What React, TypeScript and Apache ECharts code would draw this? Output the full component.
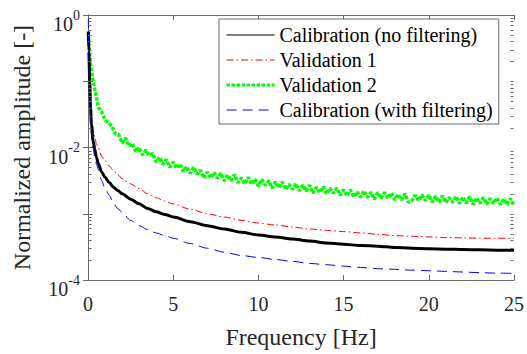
import React, { useEffect, useRef } from "react";
import * as echarts from "echarts";

// Frequency grid of the smooth curves [Hz]
const freqSmooth = [
  0.02, 0.05, 0.1, 0.15, 0.2, 0.3, 0.4, 0.5, 0.6, 0.8,
  1.0, 1.25, 1.5, 1.75, 2.0, 2.5,
  3, 3.5, 4, 4.5, 5,
  6, 7, 8, 9, 10, 11, 12, 13, 14, 15, 16, 17, 18, 19, 20, 21, 22, 23, 24, 25,
];

const calibNoFilter = [
  0.562, 0.282, 0.1, 0.0398, 0.0224, 0.0126, 0.00933, 0.00708, 0.00575, 0.00427,
  0.00355, 0.00295, 0.00251, 0.00224, 0.002, 0.00166,
  0.00141, 0.0012, 0.00107, 0.000977, 0.000891,
  0.000759, 0.000661, 0.000589, 0.000525, 0.000479, 0.000447, 0.000417, 0.000389, 0.000363, 0.000347,
  0.000331, 0.000324, 0.000309, 0.000302, 0.000295, 0.000292, 0.000288, 0.000285, 0.000282, 0.000282,
];

const validation1 = [
  0.447, 0.2, 0.0891, 0.0447, 0.0282, 0.0191, 0.0141, 0.0112, 0.01, 0.00741,
  0.00631, 0.00525, 0.00447, 0.00389, 0.00339, 0.00282,
  0.0024, 0.002, 0.00174, 0.00155, 0.00141,
  0.00117, 0.001, 0.000891, 0.000794, 0.000724, 0.000676, 0.000631, 0.000589, 0.000562, 0.000537,
  0.000513, 0.00049, 0.000468, 0.000457, 0.000447, 0.000437, 0.000432, 0.000427, 0.000427, 0.000427,
];

const calibFilter = [
  0.891, 0.251, 0.0631, 0.0251, 0.0158, 0.01, 0.00708, 0.00562, 0.00468, 0.00316,
  0.0024, 0.00191, 0.00141, 0.0012, 0.00105, 0.000794,
  0.000661, 0.000575, 0.000513, 0.000468, 0.000427,
  0.000355, 0.000302, 0.000263, 0.000234, 0.000219, 0.000204, 0.000191, 0.000178, 0.00017, 0.000162,
  0.000155, 0.000148, 0.000145, 0.000141, 0.000138, 0.000135, 0.000132, 0.000129, 0.000127, 0.000126,
];

// Validation 2: noisy measured spectrum (first 4 points, then every 0.2 Hz up to 25 Hz)
const freqNoisyStart = [0.02, 0.06, 0.1, 0.14];
const freqNoisy = freqNoisyStart.concat(
  Array.from({ length: 125 }, (_, i) => Math.round((i + 1) * 2) / 10)
);
const validation2 = [
  0.537, 0.355, 0.251, 0.19,
  0.141, 0.0759, 0.0407, 0.0347, 0.0257, 0.024, 0.0209, 0.0162, 0.0158, 0.0117,
  0.0139, 0.0105, 0.0116, 0.00866, 0.01, 0.00772, 0.00915, 0.00759, 0.00815, 0.00599,
  0.0071, 0.0056, 0.00663, 0.00504, 0.00604, 0.00487, 0.00564, 0.00434, 0.00515, 0.00406,
  0.00503, 0.00396, 0.00454, 0.00345, 0.00427, 0.00345, 0.00418, 0.00341, 0.00408, 0.00314,
  0.00385, 0.00314, 0.00391, 0.00294, 0.00348, 0.00284, 0.00356, 0.0028, 0.00332, 0.00261,
  0.00329, 0.00268, 0.00314, 0.00244, 0.00302, 0.00247, 0.00302, 0.00233, 0.00279, 0.00233,
  0.00286, 0.00222, 0.0027, 0.0022, 0.0027, 0.00205, 0.00252, 0.00208, 0.00255, 0.00199,
  0.00244, 0.00203, 0.00244, 0.0019, 0.0023, 0.00187, 0.0023, 0.00179, 0.00214, 0.00177,
  0.00222, 0.00177, 0.00212, 0.00165, 0.0021, 0.00171, 0.0021, 0.00171, 0.00205, 0.00162,
  0.00197, 0.00162, 0.002, 0.00149, 0.00156, 0.00191, 0.00158, 0.00193, 0.00158, 0.00191,
  0.0015, 0.00185, 0.0015, 0.00187, 0.00147, 0.00176, 0.00149, 0.00183, 0.00143, 0.00179,
  0.00145, 0.00181, 0.00138, 0.00174, 0.00143, 0.00176, 0.00139, 0.0017, 0.00143, 0.00174,
  0.00138, 0.00168, 0.00139, 0.0017, 0.00132,
];

const seriesNames = [
  "Calibration (no filtering)",
  "Validation 1",
  "Validation 2",
  "Calibration (with filtering)",
];

const xMin = 0;
const xMax = 25;
const xStep = 5;
const yMin = 1e-4;
const yMax = 1;
const minorMantissas = [2, 3, 4, 5, 6, 7, 8, 9];

const FONT = "Liberation Serif";
const AXIS_COLOR = "#6a6a6a";
const TEXT_COLOR = "#262626";

const pair = (xs: number[], ys: number[]) => xs.map((x, i) => [x, ys[i]]);

export default function App() {
  const ref = useRef<HTMLDivElement>(null);

  useEffect(() => {
    const chart = echarts.init(ref.current!, null, { renderer: "svg" });

    const yFmt = (v: number) => {
      const e = Math.round(Math.log10(v));
      if (e % 2 !== 0) return "";
      return `{b|10}{s|${e}}`;
    };

    const axisLine = { show: true, lineStyle: { color: AXIS_COLOR, width: 1 } };
    const tickStyle = { color: AXIS_COLOR, width: 1 };

    chart.setOption({
      animation: false,
      textStyle: { fontFamily: FONT },
      grid: { left: 88, right: 11, top: 15, bottom: 72 },
      legend: {
        orient: "vertical",
        left: 219,
        top: 19,
        padding: [6, 6, 4, 6],
        itemWidth: 48,
        itemHeight: 14,
        itemGap: 5,
        backgroundColor: "#ffffff",
        borderColor: AXIS_COLOR,
        borderWidth: 1,
        borderRadius: 0,
        selectedMode: false,
        itemStyle: { color: "rgba(0,0,0,0)", borderWidth: 0, opacity: 0 },
        textStyle: { fontFamily: FONT, fontSize: 20, color: "#000" },
        data: [
          { name: seriesNames[0], lineStyle: { width: 1 } },
          { name: seriesNames[1], lineStyle: { width: 1 } },
          { name: seriesNames[2], lineStyle: { width: 3 } },
          { name: seriesNames[3], lineStyle: { width: 1 } },
        ],
      },
      xAxis: [
        {
          type: "value",
          position: "bottom",
          min: xMin,
          max: xMax,
          interval: xStep,
          name: "Frequency [Hz]",
          nameLocation: "middle",
          nameGap: 45,
          nameTextStyle: { fontFamily: FONT, fontSize: 24, color: TEXT_COLOR },
          axisLine,
          axisTick: { show: true, inside: true, length: 5, lineStyle: tickStyle },
          axisLabel: { fontFamily: FONT, fontSize: 20, color: TEXT_COLOR, margin: 14 },
          splitLine: { show: false },
        },
        {
          type: "value",
          position: "top",
          min: xMin,
          max: xMax,
          interval: xStep,
          axisLine,
          axisTick: { show: true, inside: true, length: 5, lineStyle: tickStyle },
          axisLabel: { show: false },
          splitLine: { show: false },
        },
      ],
      yAxis: [
        {
          type: "log",
          logBase: 10,
          position: "left",
          min: yMin,
          max: yMax,
          name: "Normalized amplitude [-]",
          nameLocation: "middle",
          nameGap: 54,
          nameTextStyle: { fontFamily: FONT, fontSize: 24, color: TEXT_COLOR },
          axisLine,
          axisTick: { show: true, inside: true, length: 5, interval: 1, lineStyle: tickStyle },
          axisLabel: {
            margin: 8,
            padding: [12, 0, 0, 0],
            formatter: yFmt,
            rich: {
              b: {
                fontFamily: FONT,
                fontSize: 20,
                lineHeight: 26,
                color: TEXT_COLOR,
                verticalAlign: "bottom",
              },
              s: {
                fontFamily: FONT,
                fontSize: 14,
                lineHeight: 14,
                color: TEXT_COLOR,
                verticalAlign: "top",
              },
            },
          },
          splitLine: { show: false },
        },
        {
          type: "log",
          logBase: 10,
          position: "right",
          min: yMin,
          max: yMax,
          axisLine,
          axisTick: { show: true, inside: true, length: 5, interval: 1, lineStyle: tickStyle },
          axisLabel: { show: false },
          splitLine: { show: false },
        },
      ],
      series: [
        {
          name: seriesNames[0],
          type: "line",
          data: pair(freqSmooth, calibNoFilter),
          showSymbol: false,
          symbol: "none",
          smooth: 0.3,
          smoothMonotone: "x",
          lineStyle: { color: "#000000", width: 3 },
          itemStyle: { color: "#000000" },
          z: 4,
        },
        {
          name: seriesNames[1],
          type: "line",
          data: pair(freqSmooth, validation1),
          showSymbol: false,
          symbol: "none",
          smooth: 0.3,
          smoothMonotone: "x",
          lineStyle: { color: "#ff0000", width: 1, type: [7, 3, 1.5, 3] },
          itemStyle: { color: "#ff0000" },
          z: 3,
        },
        {
          name: seriesNames[2],
          type: "line",
          data: pair(freqNoisy, validation2),
          showSymbol: false,
          symbol: "none",
          lineStyle: { color: "#00ff00", width: 3.5, type: [3.5, 1.5], cap: "butt" },
          itemStyle: { color: "#00ff00" },
          z: 2,
        },
        {
          name: seriesNames[3],
          type: "line",
          data: pair(freqSmooth, calibFilter),
          showSymbol: false,
          symbol: "none",
          smooth: 0.3,
          smoothMonotone: "x",
          lineStyle: { color: "#0000ff", width: 1, type: [10, 6] },
          itemStyle: { color: "#0000ff" },
          z: 5,
        },
      ],
    });

    // Logarithmic minor ticks on the left and right axes
    const xl = chart.convertToPixel({ xAxisIndex: 0 }, xMin) as number;
    const xr = chart.convertToPixel({ xAxisIndex: 0 }, xMax) as number;
    const minorVals: number[] = [];
    for (let k = -4; k < 0; k++) {
      const dec = Math.pow(10, k);
      if (k % 2 !== 0) minorVals.push(dec);
      minorMantissas.forEach((m) => minorVals.push(m * dec));
    }
    const graphics: any[] = [];
    minorVals.forEach((v) => {
      const y = Math.round(chart.convertToPixel({ yAxisIndex: 0 }, v) as number) + 0.5;
      graphics.push({
        type: "line",
        shape: { x1: Math.round(xl) + 0.5, y1: y, x2: Math.round(xl) + 3.5, y2: y },
        style: { stroke: AXIS_COLOR, lineWidth: 1 },
        z: 10,
      });
      graphics.push({
        type: "line",
        shape: { x1: Math.round(xr) - 3.5, y1: y, x2: Math.round(xr) - 0.5, y2: y },
        style: { stroke: AXIS_COLOR, lineWidth: 1 },
        z: 10,
      });
    });
    chart.setOption({ graphic: graphics });

    return () => chart.dispose();
  }, []);

  return (
    <div
      ref={ref}
      style={{ position: "fixed", left: 0, top: 0, width: 527, height: 354, background: "#fff" }}
    />
  );
}
